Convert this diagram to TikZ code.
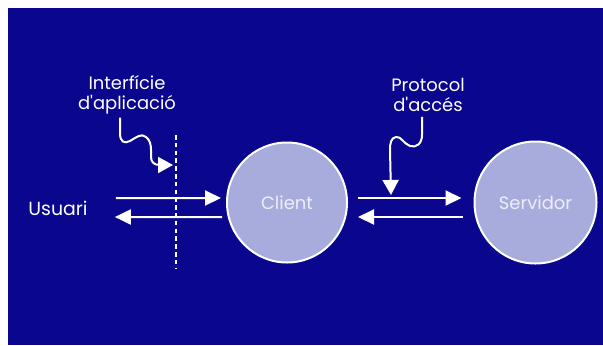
\documentclass[tikz,border=0pt]{standalone}
\usepackage{fontspec}
\setmainfont{Poppins}
\usetikzlibrary{arrows.meta}
\definecolor{navy}{RGB}{10,7,142}
\definecolor{disc}{RGB}{168,172,220}
\definecolor{disctext}{RGB}{238,238,250}
\begin{document}
\begin{tikzpicture}[x=1bp,y=-1bp,
  every node/.style={font=\fontsize{18}{20}\selectfont, text=white, inner sep=0pt},
  party/.style={circle, draw=white, line width=2bp, fill=disc, text=disctext},
  flow/.style={draw=white, line width=2bp, -{Triangle[length=16bp,width=15bp]}},
  pointer/.style={draw=white, line width=2bp, -{Triangle[length=15bp,width=16bp]}},
  divider/.style={draw=white, line width=2.5bp, dash pattern=on 4.5bp off 3.3bp}]
  % page and panel
  \fill[white] (0,0) rectangle (603,345);
  \useasboundingbox (0,0) rectangle (603,345);
  \fill[navy] (8,8) rectangle (603,345);

  % actors
  \node[font=\fontsize{19}{20}\selectfont] (usuari) at (58,208) {Usuari};
  \node[party, minimum size=120bp] (client) at (287,202.5) {Client};
  \node[party, minimum size=122bp] (servidor) at (535.5,202.5) {Servidor};

  % labels
  \node[align=center] (intf) at (127,95) {Interfície\\d\textquotesingle aplicació};
  \node[align=center] (prot) at (428,95) {Protocol\\d\textquotesingle accés};

  % boundary of the application interface
  \coordinate (divtop) at (176,135);
  \coordinate (divbot) at (176,268);
  \draw[divider] (divtop) -- (divbot);

  % message flows
  \draw[flow] ([xshift=28bp,yshift=10bp]usuari.east) -- ([xshift=-5bp,yshift=4.5bp]client.west);
  \draw[flow] ([xshift=-4bp,yshift=-14.5bp]client.west) -- ([xshift=27bp,yshift=-9bp]usuari.east);
  \draw[flow] ([xshift=10bp,yshift=4.5bp]client.east) -- ([xshift=-12bp,yshift=4.5bp]servidor.west);
  \draw[flow] ([xshift=-11bp,yshift=-14.5bp]servidor.west) -- ([xshift=10bp,yshift=-14.5bp]client.east);

  % wavy pointers from the labels
  \draw[pointer] ([xshift=-7bp,yshift=-3bp]intf.south) -- (120,133)
     .. controls (120,142) and (124,144) .. (130,141)
     .. controls (137,137) and (141,133) .. (146,137)
     .. controls (150,140) and (151,145) .. (151,150)
     -- (151,157)
     .. controls (151,162) and (154,165) .. (160,165)
     -- (173,165);
  \draw[pointer] ([xshift=-6bp,yshift=-5bp]prot.south) -- (422,135)
     .. controls (422,144) and (416,148) .. (410,146)
     .. controls (404,144) and (401,136) .. (396,137)
     .. controls (391,138) and (390,143) .. (390,150)
     -- (391,195);
\end{tikzpicture}
\end{document}
